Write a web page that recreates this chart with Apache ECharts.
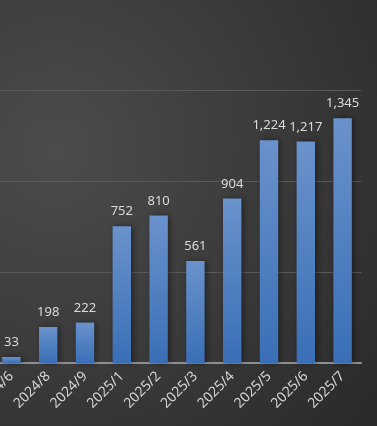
<!DOCTYPE html>
<html>
<head>
<meta charset="utf-8">
<script src="https://cdn.jsdelivr.net/npm/echarts@6/dist/echarts.min.js"></script>
<style>
  html, body { margin: 0; padding: 0; }
  #chart { width: 377px; height: 426px; }
</style>
</head>
<body>
<div id="chart"></div>
<script>
var months = ['2024/6', '2024/8', '2024/9', '2025/1', '2025/2', '2025/3', '2025/4', '2025/5', '2025/6', '2025/7'];
var counts = [33, 198, 222, 752, 810, 561, 904, 1224, 1217, 1345];

var chart = echarts.init(document.getElementById('chart'));
var option = {
  backgroundColor: {
    type: 'radial', x: 0.15, y: 0.35, r: 1.1,
    colorStops: [
      { offset: 0, color: '#4c4c4c' },
      { offset: 1, color: '#2a2a2a' }
    ]
  },
  grid: { left: -7, right: 16, top: 90, bottom: 63, containLabel: false, outerBoundsMode: 'none' },
  xAxis: {
    type: 'category',
    data: months,
    axisTick: { show: false },
    axisLine: { lineStyle: { color: '#8f8f8f', width: 2 } },
    axisLabel: {
      rotate: 45, color: '#d4d4d4', fontSize: 14, margin: 11,
      fontFamily: 'Noto Sans'
    }
  },
  yAxis: {
    type: 'value',
    min: 0, max: 1500, interval: 500,
    axisLabel: { show: false },
    axisLine: { show: false },
    axisTick: { show: false },
    splitLine: { lineStyle: { color: '#5a5a5a', width: 1 } }
  },
  series: [{
    type: 'bar',
    data: counts,
    barWidth: '50%',
    itemStyle: {
      color: {
        type: 'linear', x: 0, y: 0, x2: 0, y2: 1,
        colorStops: [
          { offset: 0, color: '#6a92cc' },
          { offset: 1, color: '#3a6fb6' }
        ]
      },
      shadowColor: 'rgba(0,0,0,0.45)',
      shadowBlur: 6,
      shadowOffsetX: 2
    },
    label: {
      show: true,
      position: 'top',
      distance: 8,
      color: '#dadada',
      fontSize: 13,
      fontFamily: 'Noto Sans',
      formatter: function (p) { return p.value.toLocaleString('en-US'); }
    }
  }]
};
chart.setOption(option);
</script>
</body>
</html>
